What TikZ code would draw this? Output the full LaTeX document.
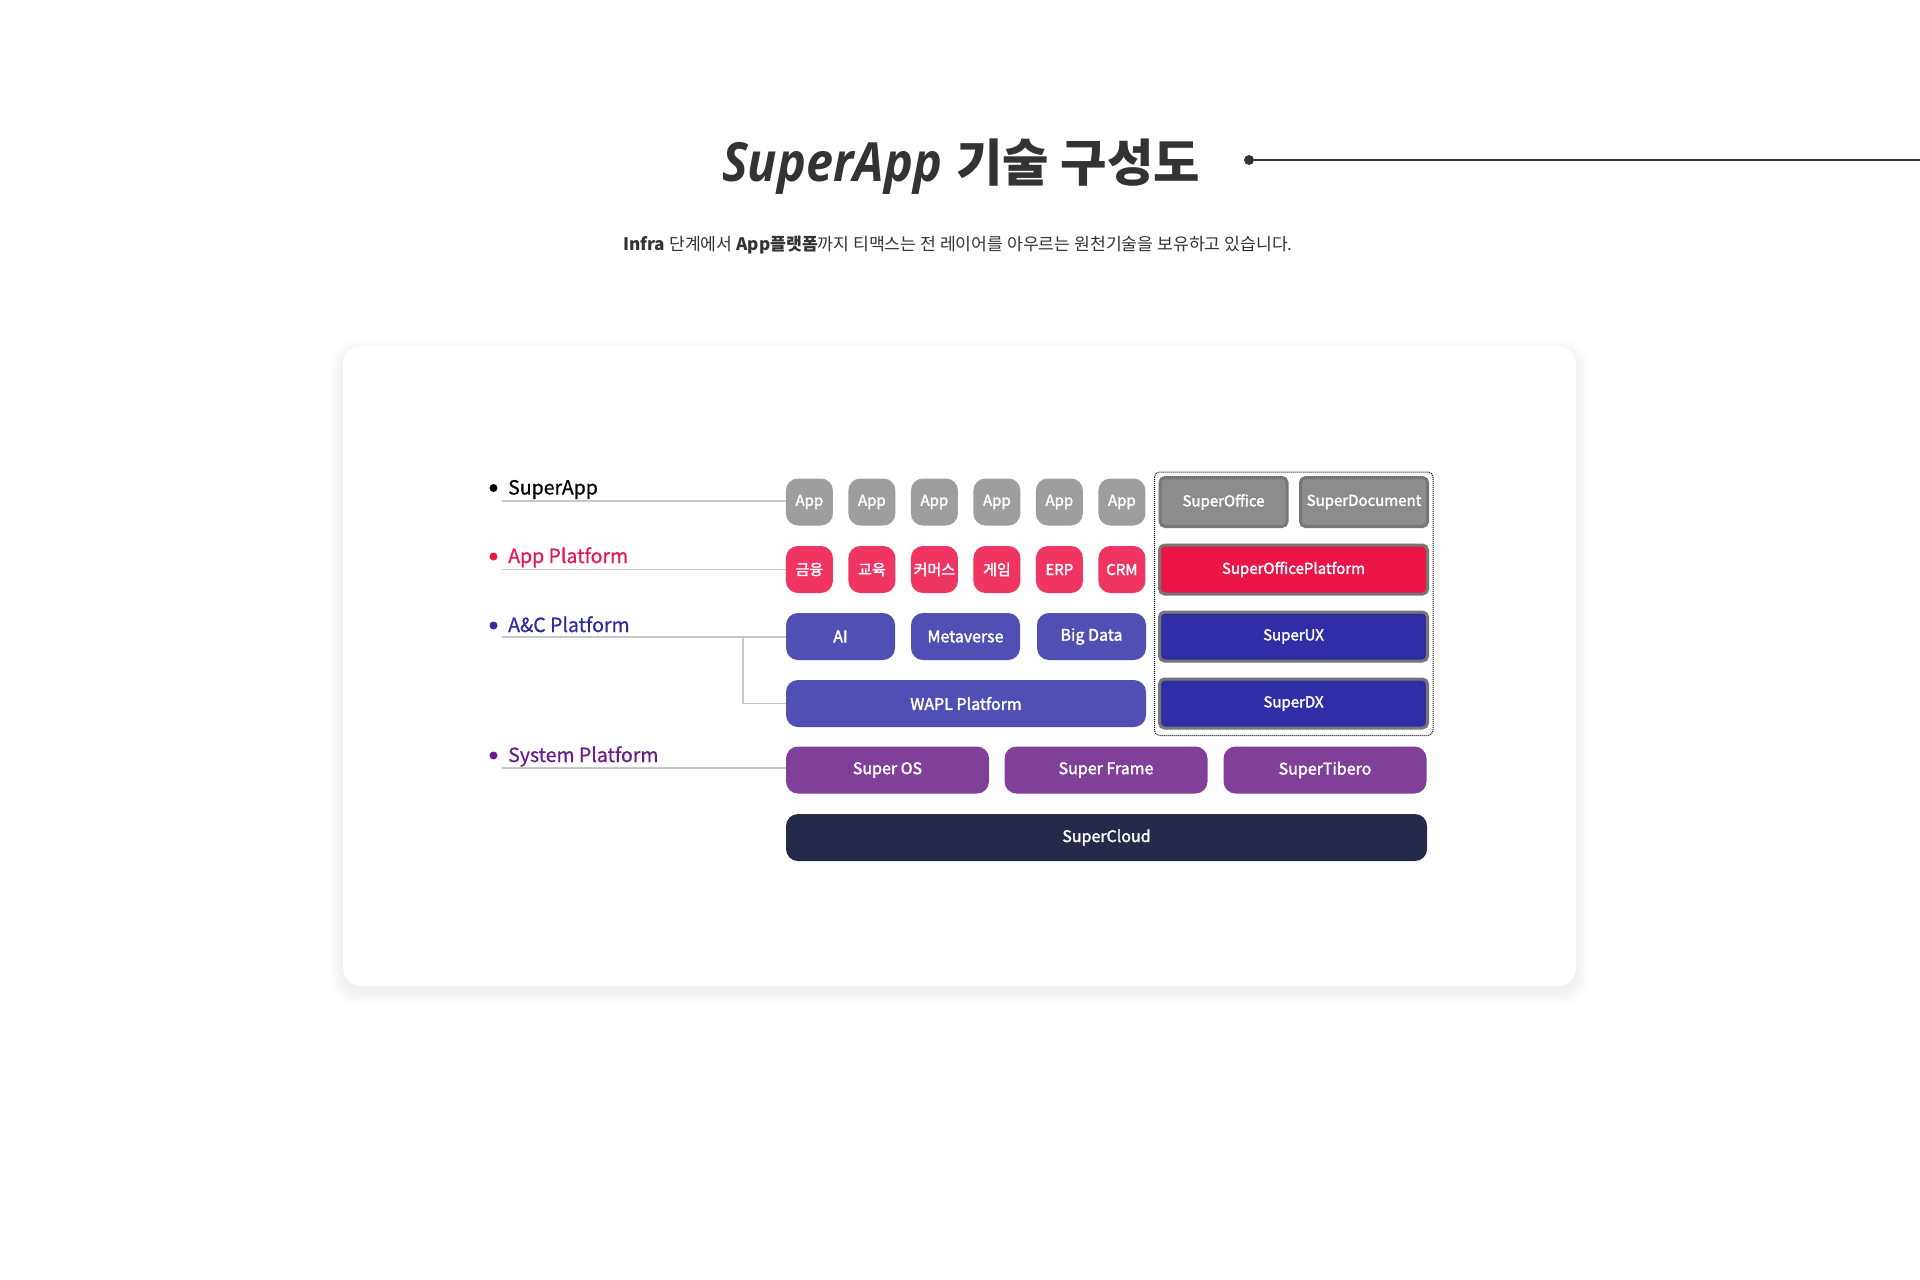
\documentclass[tikz,border=0pt]{standalone}
\usepackage{fontspec}
\setmainfont{Noto Sans CJK KR}
\newfontfamily\titlelatin[FakeStretch=0.9]{Open Sans}
\newfontfamily\tilefont[FakeBold=2]{Noto Sans CJK KR}
\newfontfamily\layerfont[FakeBold=0.6]{Noto Sans CJK KR}
\usetikzlibrary{positioning}
\definecolor{appgray}{HTML}{9E9E9E}
\definecolor{appred}{HTML}{EF3561}
\definecolor{acblue}{HTML}{514EB4}
\definecolor{syspurple}{HTML}{80409A}
\definecolor{cloudnavy}{HTML}{262A4A}
\definecolor{offgray}{HTML}{8C8C8C}
\definecolor{offred}{HTML}{EB1447}
\definecolor{offblue}{HTML}{302DA6}
\definecolor{rimgray}{HTML}{767676}
\definecolor{lblred}{HTML}{E8174B}
\definecolor{lblblue}{HTML}{2E2CA0}
\definecolor{lblpurple}{HTML}{6A1B8A}
\definecolor{guidegray}{HTML}{C8C8C8}

\begin{document}
\begin{tikzpicture}[x=1pt,y=-1pt,
  tile/.style={rounded corners=12pt, text=white, inner sep=0pt,
    minimum height=47pt, font=\tilefont\fontsize{16}{16}\selectfont},
  small/.style={tile, minimum width=47pt, font=\tilefont\fontsize{15}{15}\selectfont},
  office/.style={rounded corners=5pt, draw=rimgray, line width=3pt, text=white,
    inner sep=0pt, minimum height=49pt, font=\tilefont\fontsize{15}{15}\selectfont},
  layer/.style={anchor=base west, font=\layerfont\fontsize{19.5}{20}\selectfont},
  guide/.style={guidegray, line width=1.3pt}]
  \useasboundingbox (0,0) rectangle (1920,1280);
  \fill[white] (0,0) rectangle (1920,1280);

  % title and lead
  \node[anchor=base west, text=black!80, inner sep=0pt] (ttl) at (722,181)
    {{\titlelatin\fontsize{54}{60}\selectfont\bfseries\itshape SuperApp}\hspace{14pt}{\fontsize{50.5}{54}\selectfont\bfseries 기술 구성도}};
  \node[circle, fill=black!80, inner sep=0pt, minimum size=10pt] (tdot) at (1249,160) {};
  \coordinate (tend) at (1920,160);
  \draw[black!80, line width=1.5pt] (tdot) -- (tend);
  \node[anchor=base, text=black!80, inner sep=0pt, font=\fontsize{17.2}{18}\selectfont] (lead) at (958,250)
    {\textbf{Infra} 단계에서 \textbf{App플랫폼}까지 티맥스는 전 레이어를 아우르는 원천기술을 보유하고 있습니다.};

  % card
  \foreach \i in {1,...,14}
    \fill[black, opacity=0.0035, rounded corners={18+\i}] ({343-\i},{352-\i}) rectangle ({1576+\i},{992+\i});
  \fill[white, rounded corners=18pt] (343,346) rectangle (1576,986);

  % layer names
  \foreach \y/\c/\n/\t in {488/black/sa/SuperApp,556.5/lblred/ap/App Platform,625.5/lblblue/ac/A\&C Platform,755.5/lblpurple/sp/System Platform}{
    \fill[\c] (493.5,\y) circle (4pt);
    \node[layer, text=\c, inner sep=0pt] (\n) at (508,\y+6.5) {\t};
  }

  % app row and app platform row
  \foreach \i/\s in {1/금융,2/교육,3/커머스,4/게임,5/ERP,6/CRM}{
    \node[small, fill=appgray] (app\i) at ({809.4+62.5*(\i-1)},502) {App};
    \node[small, fill=appred] (plt\i) at ({809.4+62.5*(\i-1)},569.5) {\s};
  }

  % A&C platform
  \node[tile, fill=acblue, minimum width=109pt] (ai) at (840.5,636.5) {AI};
  \node[tile, fill=acblue, minimum width=109pt] (meta) at (965.5,636.5) {Metaverse};
  \node[tile, fill=acblue, minimum width=109pt] (big) at (1091.5,636.5) {Big Data};
  \node[tile, fill=acblue, minimum width=360pt] (wapl) at (966,703.5) {WAPL Platform};

  % system platform and cloud
  \node[tile, fill=syspurple, minimum width=203pt] (os) at (887.5,770) {Super OS};
  \node[tile, fill=syspurple, minimum width=203pt] (frame) at (1106,770) {Super Frame};
  \node[tile, fill=syspurple, minimum width=203pt] (tibero) at (1325,770) {SuperTibero};
  \node[tile, fill=cloudnavy, minimum width=641pt] (cloud) at (1106.5,837.5) {SuperCloud};

  % super office stack
  \node[office, fill=offgray, minimum width=127pt] (soff) at (1223.5,502) {SuperOffice};
  \node[office, fill=offgray, minimum width=127pt] (sdoc) at (1364,502) {SuperDocument};
  \node[office, fill=offred, minimum width=268pt] (sofp) at (1293.5,569.5) {SuperOfficePlatform};
  \node[office, fill=offblue, minimum width=268pt] (sux) at (1293.5,636.5) {SuperUX};
  \node[office, fill=offblue, minimum width=268pt] (sdx) at (1293.5,703.5) {SuperDX};
  \draw[densely dotted, line width=1pt, rounded corners=5pt]
    ([xshift=-4pt,yshift=4pt]soff.north west) rectangle ([xshift=4pt,yshift=-6pt]sdx.south -| sdoc.east);

  % guide lines
  \coordinate (g1) at (502,501);
  \coordinate (g2) at (502,569.5);
  \coordinate (g3) at (502,637);
  \coordinate (g4) at (502,768);
  \coordinate (fork) at (743,637);
  \draw[guide] (g1) -- (g1 -| app1.west);
  \draw[guide] (g2) -- (g2 -| plt1.west);
  \draw[guide] (g3) -- (g3 -| ai.west);
  \draw[guide] (fork) |- (wapl.west);
  \draw[guide] (g4) -- (g4 -| os.west);
\end{tikzpicture}
\end{document}
